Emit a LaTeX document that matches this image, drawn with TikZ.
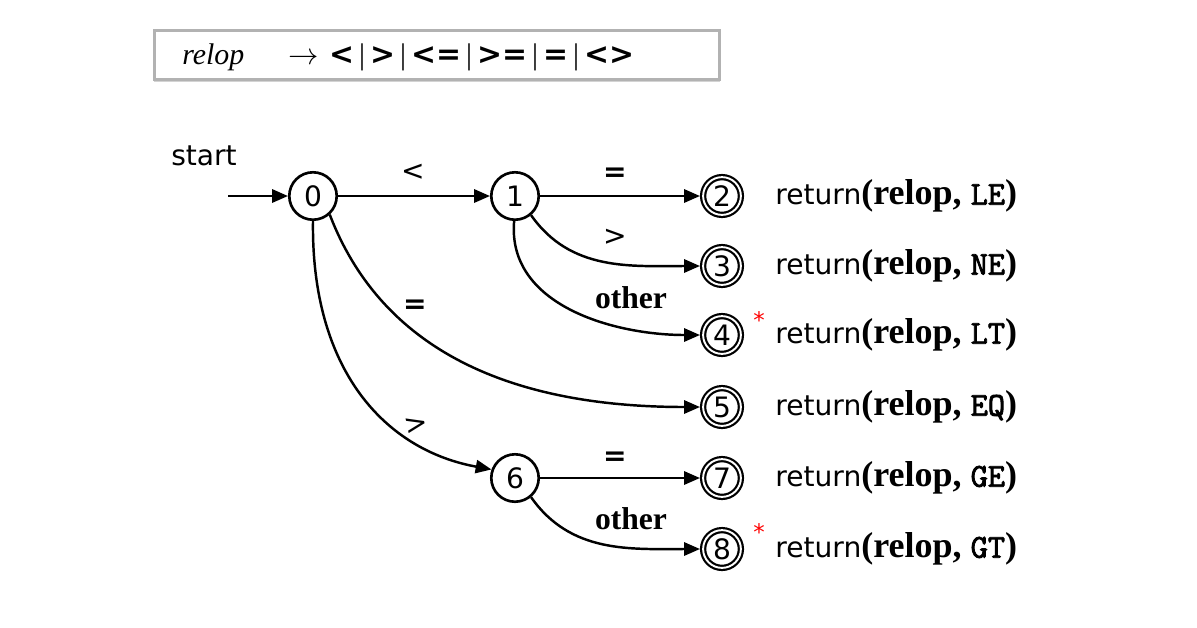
\documentclass[tikz,border=0pt]{standalone}
\usepackage{fontspec}
\setmainfont{Liberation Serif}
\setsansfont{DejaVu Sans}
\setmonofont{Latin Modern Mono}[AutoFakeBold=2.5]
\usetikzlibrary{arrows.meta,shadows}
\newcommand\retlab[1]{\sffamily return{\rmfamily\bfseries\fontsize{20.5}{24}\selectfont(relop, }{\ttfamily\bfseries\fontsize{19}{22}\selectfont #1}{\rmfamily\bfseries\fontsize{20.5}{24}\selectfont)}}
\begin{document}
\begin{tikzpicture}[x=0.02cm,y=-0.02cm,
  every node/.style={font=\fontsize{16}{19}\selectfont},
  state/.style={circle,draw,line width=1.5pt,minimum size=27pt,inner sep=0pt,font=\sffamily\fontsize{16}{19}\selectfont},
  accept/.style={circle,draw,line width=1.25pt,double,double distance=1.1pt,minimum size=21.5pt,inner sep=0pt,outer sep=1.8pt,font=\sffamily\fontsize{16}{19}\selectfont},
  trans/.style={line width=1.4pt,-{Triangle[length=9pt,width=7.5pt]}},
  lab/.style={font=\sffamily\fontsize{16}{19}\selectfont},
  eqlab/.style={font=\sffamily\bfseries\fontsize{16}{19}\selectfont},
  olab/.style={font=\rmfamily\bfseries\fontsize{18}{21}\selectfont},
  ret/.style={anchor=west,inner sep=0pt},
  star/.style={text=red,inner sep=0pt,font=\sffamily\fontsize{13}{15}\selectfont}]
\useasboundingbox (0,0) rectangle (1197,627);
% grammar box
\node[draw=gray!60,line width=1.8pt,fill=white,minimum width=322pt,minimum height=28pt,
      drop shadow={shadow xshift=0pt,shadow yshift=-1.5pt,opacity=0.35}] (box) at (437,55) {};
\node[anchor=west,inner sep=0pt,font=\rmfamily\itshape\fontsize{17}{20}\selectfont] (lhs) at (182,57) {relop};
\node[anchor=west,inner sep=0pt,font=\rmfamily\fontsize{17}{20}\selectfont] (rhs) at (288,57)
  {$\rightarrow$\hspace{0.35em}{\sffamily\bfseries <}\,|\,{\sffamily\bfseries >}\,|\,{\sffamily\bfseries <=}\,|\,{\sffamily\bfseries >=}\,|\,{\sffamily\bfseries =}\,|\,{\sffamily\bfseries <>}};
% states
\node[state] (s0) at (313,196) {0};
\node[state] (s1) at (515,196) {1};
\node[state] (s6) at (515,478) {6};
\node[accept] (s2) at (722,196) {2};
\node[accept] (s3) at (722,266) {3};
\node[accept] (s4) at (722,335) {4};
\node[accept] (s5) at (722,407) {5};
\node[accept] (s7) at (722,478) {7};
\node[accept] (s8) at (722,549) {8};
% start
\node[font=\sffamily\fontsize{16}{19}\selectfont] (start) at (204,156) {start};
\coordinate (in0) at (228,196);
\draw[trans] (in0) -- (s0);
% transitions
\draw[trans] (s0) -- (s1);
\draw[trans] (s1) -- (s2);
\draw[trans] (s1.-50) to[out=-55,in=180] (s3);
\draw[trans] (s1.-92) to[out=-95,in=180] (s4);
\draw[trans] (s0.-48) to[out=-69,in=180] (s5);
\draw[trans] (s0.-90) .. controls (311,370) and (385,450) .. (s6.160);
\draw[trans] (s6) -- (s7);
\draw[trans] (s6.-50) to[out=-55,in=180] (s8);
% labels
\node[lab] (l01) at (413,172) {<};
\node[eqlab] (l12) at (615,175) {=};
\node[lab] (l13) at (615,237) {>};
\node[olab] (l14) at (631,298) {other};
\node[eqlab] (l05) at (415,307) {=};
\node[lab,rotate=12] (l06) at (416,425) {>};
\node[eqlab] (l67) at (615,459) {=};
\node[olab] (l68) at (631,519) {other};
% stars
\node[star] (st4) at (759,320) {*};
\node[star] (st8) at (759,532) {*};
% actions
\node[ret] (r2) at (775,196) {\retlab{LE}};
\node[ret] (r3) at (775,266) {\retlab{NE}};
\node[ret] (r4) at (775,335) {\retlab{LT}};
\node[ret] (r5) at (775,407) {\retlab{EQ}};
\node[ret] (r7) at (775,478) {\retlab{GE}};
\node[ret] (r8) at (775,549) {\retlab{GT}};
\end{tikzpicture}
\end{document}
